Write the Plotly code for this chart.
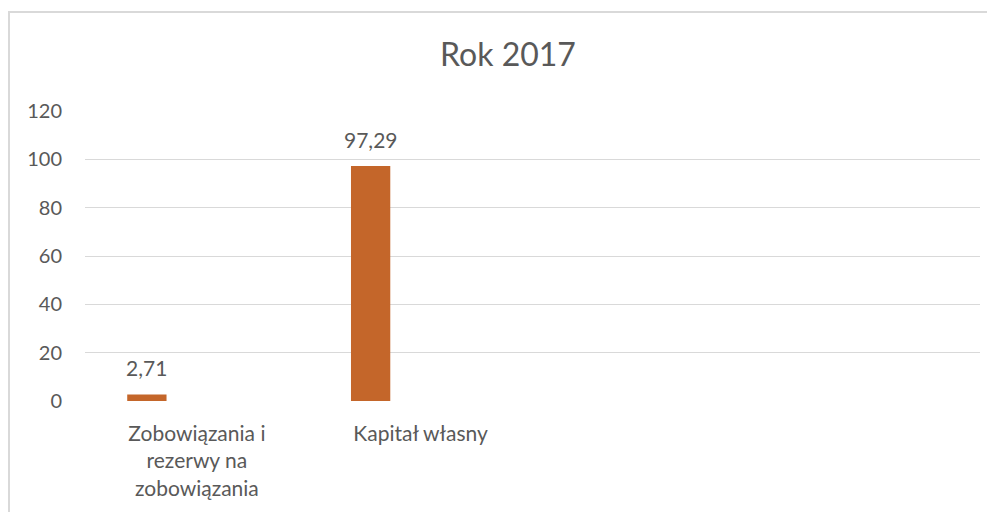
import plotly.graph_objects as go

categories = ["Zobowiązania i<br>rezerwy na<br>zobowiązania", "Kapitał własny", " ", "  "]
values = [2.71, 97.29, None, None]
labels = ["2,71", "97,29", "", ""]
title_text = "Rok 2017"
y_ticks = [0, 20, 40, 60, 80, 100, 120]

FONT = "Lato, 'Open Sans', sans-serif"
TXT = "#595959"

# the page body adds an 8px offset, so the figure is laid out 8px up/left
W, H = 987, 504
L, R, T, B = 77, 15, 103, 111
pw, ph = W - L - R, H - T - B
cat_px = pw / 4.0
bar_w = 39.3 / cat_px
bar_shift_px = -50.0
bar_off = (bar_shift_px / cat_px) - bar_w / 2

fig = go.Figure()
fig.add_trace(go.Bar(
    x=categories, y=values,
    marker=dict(color="#C4662A", line=dict(width=0)),
    width=bar_w, offset=bar_off,
))

for c, v, t in zip(categories, values, labels):
    if v is None:
        continue
    fig.add_annotation(x=c, y=v, text=t, showarrow=False, xref="x", yref="y",
                       xanchor="center", yanchor="bottom", xshift=bar_shift_px, yshift=12,
                       font=dict(family=FONT, size=21, color=TXT))

fig.update_layout(
    width=W, height=H,
    margin=dict(l=L, r=R, t=T, b=B),
    paper_bgcolor="white", plot_bgcolor="white",
    showlegend=False,
    title=dict(text=title_text, x=500 / W, xanchor="center", y=1 - 47 / H, yanchor="middle",
               font=dict(family=FONT, size=32, color=TXT)),
    xaxis=dict(showgrid=False, showline=False, ticks="", zeroline=False,
               ticklabelstandoff=18,
               tickfont=dict(family=FONT, size=21, color=TXT)),
    yaxis=dict(range=[0, 120], tickvals=y_ticks, showgrid=True, gridcolor="#d9d9d9", gridwidth=1,
               zeroline=False, showline=False, ticks="", ticklabelstandoff=22,
               tickfont=dict(family=FONT, size=20, color=TXT)),
)

# outer chart frame (partially cropped in the reference)
fig.add_shape(type="rect", xref="paper", yref="paper",
              x0=(1 - L) / pw, x1=(W + 10 - L) / pw,
              y0=-(B + 10) / ph, y1=1 + (T - 4) / ph,
              line=dict(color="#d9d9d9", width=2), fillcolor="rgba(0,0,0,0)", layer="below")

fig.write_html("out.html")
